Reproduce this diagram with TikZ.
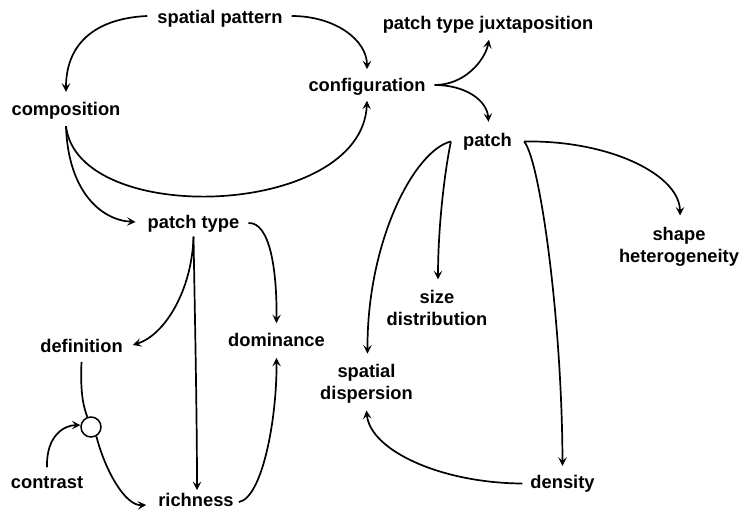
\documentclass[tikz,border=0pt]{standalone}
\usepackage{fontspec}
\setmainfont{Liberation Sans}
\usetikzlibrary{arrows.meta,calc}
\begin{document}
\begin{tikzpicture}[x=1pt,y=-1pt,
  concept/.style={inner sep=0pt,align=center,font=\bfseries\fontsize{18.3}{21.5}\selectfont},
  link/.style={line width=1.7pt,-{Stealth[length=8.5pt,width=8.5pt,inset=3.5pt]}},
  plain/.style={line width=1.7pt}]
\useasboundingbox (0,0) rectangle (741,517);

% concepts
\node[concept] (sp)    at (220,19)    {spatial pattern};
\node[concept] (comp)  at (66,110.5)  {composition};
\node[concept] (conf)  at (367,87)    {configuration};
\node[concept] (ptj)   at (488,25)    {patch type juxtaposition};
\node[concept] (patch) at (487.5,141.5) {patch};
\node[concept] (ptype) at (193.5,224) {patch type};
\node[concept] (defn)  at (81.5,346)  {definition};
\node[concept] (dom)   at (276.5,340) {dominance};
\node[concept] (contr) at (47,482.5)  {contrast};
\node[concept] (rich)  at (196,500)   {richness};
\node[concept] (sdisp) at (366.5,384) {spatial\\dispersion};
\node[concept] (sized) at (437,308)   {size\\distribution};
\node[concept] (shape) at (679,247)   {shape\\heterogeneity};
\node[concept] (dens)  at (562.5,483.5) {density};
\node[circle,draw,line width=1.5pt,minimum size=20pt,inner sep=0pt] (circ) at (91,427) {};

% spatial pattern splits into composition and configuration
\draw[link] ($(sp.west)+(-10,-3)$) .. controls (100,18) and (66,40) .. ($(comp.north)+(0,-10)$);
\draw[link] ($(sp.east)+(9,-3)$) .. controls (335,16) and (367,40) .. ($(conf.north)+(0,-9)$);
\draw[link] ($(comp.south)+(0,7)$) .. controls (78,228) and (362,218) .. ($(conf.south)+(0,5)$);
\draw[link] ($(comp.south)+(0,7)$) .. controls (68,190) and (100,220) .. ($(ptype.west)+(-12,-2)$);

% configuration
\draw[link] ($(conf.east)+(9,-2)$) .. controls (465,85) and (485,60) .. ($(ptj.south)+(1,6)$);
\draw[link] ($(conf.east)+(9,-2)$) .. controls (465,85) and (487,100) .. ($(patch.north)+(1,-11)$);

% patch
\draw[link] ($(patch.west)+(-12,0)$) .. controls (415,150) and (367,240) .. ($(sdisp.north)+(1,-11)$);
\draw[link] ($(patch.west)+(-12,0)$) .. controls (444,175) and (438,230) .. ($(sized.north)+(1,-11)$);
\draw[link] ($(patch.east)+(12,0)$) .. controls (540,160) and (562,320) .. ($(dens.north)+(0,-9)$);
\draw[link] ($(patch.east)+(12,0)$) .. controls (610,140) and (680,175) .. ($(shape.north)+(1,-12)$);
\draw[link] ($(dens.west)+(-8,0)$) .. controls (440,483) and (370,450) .. ($(sdisp.south)+(0,7)$);

% patch type
\draw[link] ($(ptype.south)+(0,4)$) .. controls (192,290) and (165,335) .. ($(defn.east)+(10,-1)$);
\draw[link] ($(ptype.south)+(0,4)$) .. controls (195,320) and (197,420) .. ($(rich.north)+(1,-3)$);
\draw[link] ($(ptype.east)+(9,-1)$) .. controls (270,222) and (277,270) .. ($(dom.north)+(0,-10)$);
\draw[link] ($(rich.east)+(5,2)$) .. controls (262,498) and (277,420) .. ($(dom.south)+(0,11)$);

% definition and contrast meet at the junction
\draw[plain] ($(defn.south)+(0,9)$) .. controls (80,395) and (84,408) .. (circ.110);
\draw[link] (circ.-60) .. controls (105,470) and (125,506) .. ($(rich.west)+(-12,5)$);
\draw[link] ($(contr.north)+(0,-9)$) .. controls (46,435) and (65,425) .. (circ.170);
\end{tikzpicture}
\end{document}
